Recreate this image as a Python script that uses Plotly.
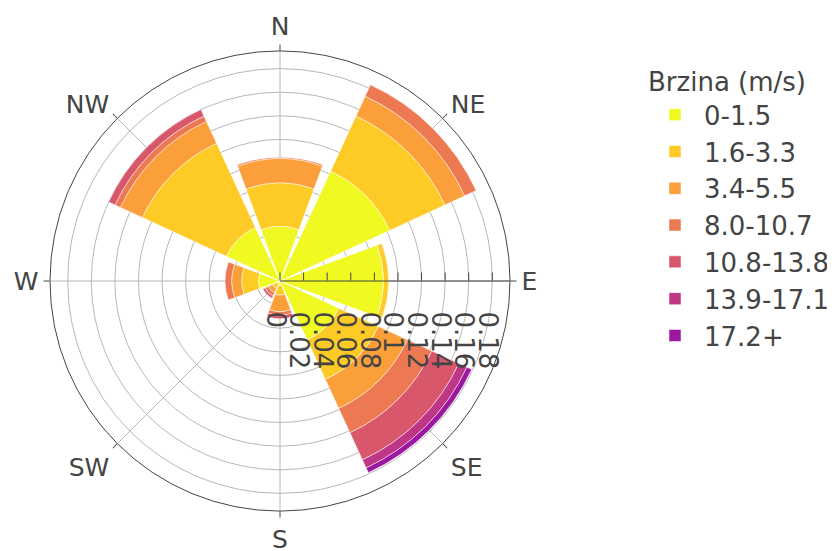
import plotly.graph_objects as go

directions = ['N', 'NE', 'E', 'SE', 'S', 'SW', 'W', 'NW']
speed_bins = ['0-1.5', '1.6-3.3', '3.4-5.5', '8.0-10.7', '10.8-13.8', '13.9-17.1', '17.2+']
bin_colors = ['#f0f921', '#fdca26', '#fb9f3a', '#ed7953', '#d8576b', '#bd3786', '#9c179e']

freq_0_1_5 = [0.0464, 0.1025, 0.0877, 0.055, 0.004, 0.003, 0.0184, 0.050]
freq_1_6_3_3 = [0.0368, 0.0515, 0.0043, 0.037, 0.008, 0.004, 0.0141, 0.0785]
freq_3_4_5_5 = [0.0206, 0.0185, 0.0, 0.027, 0.014, 0.004, 0.0085, 0.0205]
freq_8_0_10_7 = [0.0012, 0.0106, 0.0, 0.0227, 0.003, 0.003, 0.0056, 0.005]
freq_10_8_13_8 = [0.0, 0.0, 0.0, 0.0253, 0.003, 0.002, 0.0, 0.006]
freq_13_9_17_1 = [0.0, 0.0, 0.0, 0.0075, 0.0, 0.0, 0.0, 0.0]
freq_17_2_plus = [0.0, 0.0, 0.0, 0.0045, 0.0, 0.0, 0.0, 0.0]

radial_tickvals = [0, 0.02, 0.04, 0.06, 0.08, 0.1, 0.12, 0.14, 0.16, 0.18]
radial_ticklabels = ['0', '0.02', '0.04', '0.06', '0.08', '0.1', '0.12', '0.14', '0.16', '0.18']

series = [freq_0_1_5, freq_1_6_3_3, freq_3_4_5_5, freq_8_0_10_7,
          freq_10_8_13_8, freq_13_9_17_1, freq_17_2_plus]

FONT = "DejaVu Sans, Verdana, sans-serif"
FS = 26
GRID = '#b8b8b8'
NB = '\u00a0\u00a0\u00a0'

fig = go.Figure()
for name, color, vals in zip(speed_bins, bin_colors, series):
    fig.add_trace(go.Barpolar(
        r=vals, theta=directions, name=name, legendgroup=name,
        marker=dict(color=color, line=dict(color='white', width=0.5)),
    ))

W, H = 835, 551
fig.update_layout(
    template='none',
    width=W, height=H,
    margin=dict(l=0, r=0, t=43, b=48),
    paper_bgcolor='white',
    font=dict(family=FONT, size=FS, color='#444'),
    polar=dict(
        domain=dict(x=[0, 544 / W], y=[0, 1]),
        bgcolor='white',
        barmode='stack',
        angularaxis=dict(
            direction='clockwise', rotation=90,
            categoryorder='array', categoryarray=directions,
            showline=True, linecolor='#444', linewidth=1,
            showgrid=True, gridcolor=GRID,
            ticks='outside', ticklen=6, tickcolor='#444',
            tickfont=dict(family=FONT, size=25, color='#444'),
        ),
        radialaxis=dict(
            range=[0, 0.195],
            tickmode='array', tickvals=radial_tickvals,
            ticktext=['<span style="baseline-shift:-5px">' + NB + t + '</span>'
                      for t in radial_ticklabels],
            showline=True, linecolor='#444', linewidth=1,
            showgrid=True, gridcolor=GRID,
            ticks='inside', ticklen=8, tickcolor='#444',
            tickangle=90,
            tickfont=dict(family=FONT, size=FS, color='#444'),
        ),
    ),
    showlegend=True,
    legend=dict(
        title=dict(text='Brzina (m/s)', font=dict(family=FONT, size=FS, color='#444')),
        font=dict(family=FONT, size=FS, color='#444'),
        x=638 / W, xanchor='left', y=0.986, yanchor='top',
        traceorder='normal', itemwidth=48, tracegroupgap=7,
        maxheight=2000,
        bgcolor='rgba(0,0,0,0)',
    ),
)

fig.write_html("out.html")
